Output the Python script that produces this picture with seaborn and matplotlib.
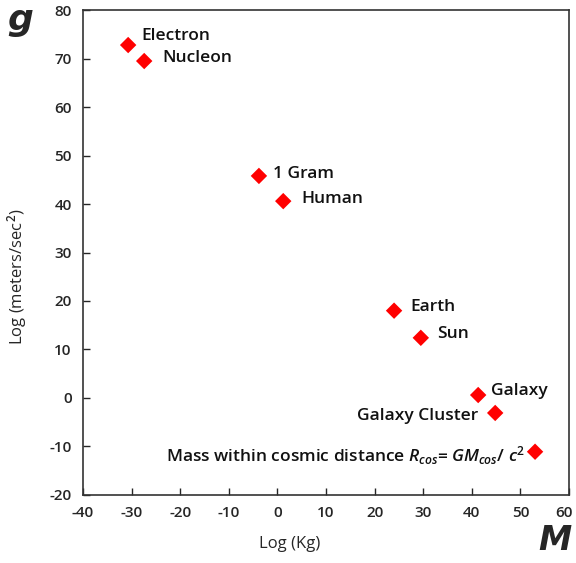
import matplotlib
matplotlib.use("Agg")
import matplotlib.pyplot as plt
import matplotlib.transforms as mtransforms
import seaborn as sns
import pandas as pd

labels = ["Electron", "Nucleon", "1 Gram", "Human", "Earth", "Sun", "Galaxy",
          "Galaxy Cluster", "Mass within cosmic distance $R_{cos}$= $GM_{cos}$/ $c^2$"]
log_mass = [-30.7, -27.4, -3.8, 1.2, 24.0, 29.5, 41.3, 44.8, 53.0]
log_g = [72.8, 69.5, 45.8, 40.6, 18.0, 12.4, 0.6, -3.1, -11.1]
x_ticks = [-40, -30, -20, -10, 0, 10, 20, 30, 40, 50, 60]
y_ticks = [-20, -10, 0, 10, 20, 30, 40, 50, 60, 70, 80]

df = pd.DataFrame({"label": labels, "M": log_mass, "g": log_g})

sns.set_style("ticks")
plt.rcParams['font.family'] = ['Open Sans', 'DejaVu Sans']
plt.rcParams['mathtext.fontset'] = 'custom'
plt.rcParams['mathtext.rm'] = 'Open Sans:semibold'
plt.rcParams['mathtext.it'] = 'Open Sans:italic:semibold'

fig = plt.figure(figsize=(5.76, 5.63), dpi=100)
ax = fig.add_axes([0.144, 0.121, 0.844, 0.861])
sns.scatterplot(data=df, x="M", y="g", marker="D", color="#ff0000", s=70,
                edgecolor="none", ax=ax, legend=False)

ax.set_xlim(-40, 60)
ax.set_ylim(-20, 80)
ax.set_xticks(x_ticks)
ax.set_xticklabels([str(v) for v in x_ticks])
ax.set_yticks(y_ticks)
ax.set_yticklabels([str(v) for v in y_ticks])
ax.tick_params(direction="in", length=5, width=1, labelsize=11)
for t in ax.get_xticklabels() + ax.get_yticklabels():
    t.set_fontweight("semibold")
ax.tick_params(axis="x", pad=8)
ax.tick_params(axis="y", pad=8)
last = ax.get_xticklabels()[-1]
last.set_transform(last.get_transform() +
                   mtransforms.ScaledTranslation(-5 / 100, 0, fig.dpi_scale_trans))
for sp in ax.spines.values():
    sp.set_linewidth(1.2)
    sp.set_color("#333333")

ax.set_xlabel("Log (Kg)", fontsize=12, labelpad=12)
ax.xaxis.set_label_coords(0.426, -0.085)
ax.set_ylabel("Log (meters/sec$^2$)", fontsize=12, labelpad=10)
ax.yaxis.set_label_coords(-0.11, 0.45)

# (dx pt, dy pt, ha)
offsets = {0: (9.5, 6.5, "left"), 1: (13, 2, "left"), 2: (10, 1.5, "left"),
           3: (13, 1.5, "left"), 4: (11.5, 3, "left"), 5: (11.5, 3, "left"),
           6: (9.5, 3, "left"), 7: (-12, -2.5, "right"), 8: (-7, -2.5, "right")}
for i, (lab, xv, yv) in enumerate(zip(labels, log_mass, log_g)):
    dx, dy, ha = offsets[i]
    ax.annotate(lab, (xv, yv), xytext=(dx, dy), textcoords="offset points",
                ha=ha, va="center",
                fontsize=12.5, fontweight="semibold", color="#111111")

fig.text(0.012, 0.965, "g", fontsize=26, fontweight="bold", fontstyle="italic",
         ha="left", va="center", family=["DejaVu Sans"])
fig.text(0.963, 0.04, "M", fontsize=24, fontweight="bold", fontstyle="italic",
         ha="center", va="center", family=["DejaVu Sans"])

fig.savefig("out.png", dpi=100)
